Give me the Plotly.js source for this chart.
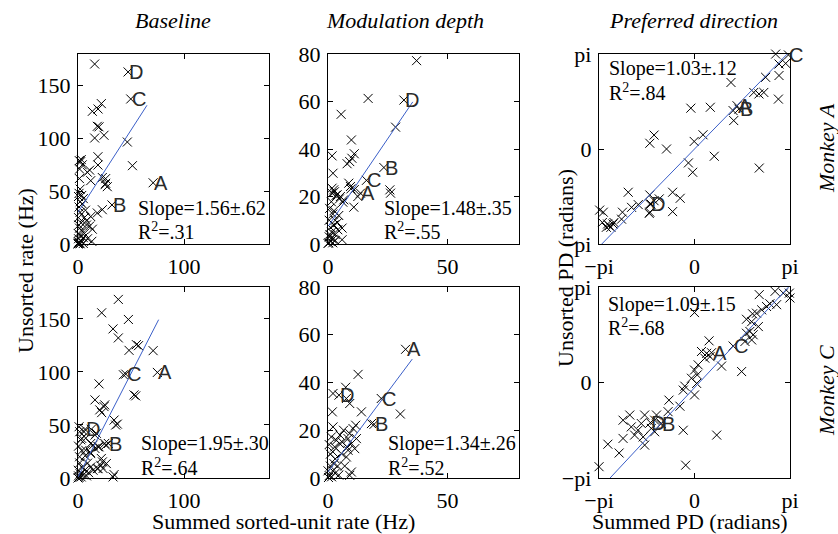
<!DOCTYPE html>
<html>
<head>
<meta charset="utf-8">
<script src="https://cdn.plot.ly/plotly-3.0.1.min.js"></script>
<style>html,body{margin:0;padding:0;background:#fff;}#chart{width:838px;height:534px;}</style>
</head>
<body>
<div id="chart"></div>
<script>
// ---------- DATA ----------
// Monkey A, Baseline (Hz)
var baseA_x = [15.7,13.5,18.9,22,18.2,15.7,24.5,19.8,46.5,51.3,18.8,18.8,2.5,4,8.8,12,22.9,26.1,27.6,1.2,1.5,1.3,2,3.5,5,22.9,18.2,12,11,13.5,8,13,3.1,11,1,2,0.5,3,1.5,4,2,0.5,1,0.3,3,5,6,7,4,0.5,1,2,6,8,9,0.2,0.8,5,2,0,0.5,1.5,26,25.5];
var baseA_y = [170.5,125.7,127.9,133,111.5,100.4,103,111,96.6,74.2,82.7,74.8,78,75,68,60,63,57.5,54.3,79,71,62,52,46,43,32.5,29.4,26,17,14,22,2.5,80,70,35,30,25,20,15,12,8,5,2,0.5,3,6,10,32,38,45,48,40,25,18,5,10,18,0.5,0.2,0,1,0.8,61.9,56.2];
// Monkey A, Modulation depth (Hz)
var mdA_x = [37.1,16.8,5.5,28.3,9.8,11,10,9.1,8,1.7,2.1,8.7,9.4,25.9,26.2,12.5,10.8,1.7,2.4,1.7,3.8,5.2,6.6,5.9,5.9,11,9.6,2.7,3.4,4.8,6.2,1.4,0.7,2,4.1,3,2.5,1.5,0.5,1,0.3,2,3,4,1,0.5,2,3,0.8,1.5,4.5,2.5,0];
var mdA_y = [77.2,61.3,54.6,49.2,43.8,38,36.1,34.7,33.8,37.1,29.8,25.6,24.2,22.8,21.4,20,15.5,23.5,22.8,21.4,20.7,20,18.6,1.8,6.7,22.9,23.2,22,20.5,19,17.6,17.8,15,12.6,6,10,8,5,3,1,0.5,2,4,9,7,10,0.5,1.5,4,2.5,12,14,0.2];
// Monkey A, Preferred direction (radians)
var pdA_x = [2.67,2.78,3.0,2.34,2.78,1.2,1.95,2.12,2.28,2.76,-0.12,0.52,1.27,1.29,-1.33,-1.47,-0.92,-0.01,0.28,0.65,-0.2,-0.06,2.13,-2.18,-1.47,-1.33,-1.16,-1.47,-0.72,-0.47,-0.72,-2.07,-1.85,-2.37,-2.4,-3.12,-3.0,-3.03,-2.81,-2.68,-2.9,-2.86,-2.75,-2.65,-1.49,-1.43];
var pdA_y = [3.14,2.81,2.83,2.37,2.43,2.2,1.87,1.82,1.87,1.65,1.35,1.38,1.27,0.94,0.46,0.19,0,0.25,0.47,-0.24,-0.46,-0.77,-0.63,-1.43,-1.52,-1.71,-1.65,-2.09,-1.43,-1.63,-2.07,-1.93,-1.84,-2.09,-2.32,-2.02,-2.09,-2.43,-2.54,-2.48,-2.59,-2.48,-2.59,-2.43,-2.13,-1.82];
// Monkey C, Baseline (Hz)
var baseC_x = [38,22.3,47.5,33,38,55,48.1,57,70.8,42.8,52.8,54.4,19.8,16,24.5,22.3,34,35.5,37.1,1,5.7,16,3.5,12,16,19.8,26.1,7.2,12,23,21.4,18.2,12,34,20.5,25.2,12.5,1.6,17.3,2.6,7.3,14.2,18.9,25.2,3.6,6.8,11.6,22,26.7,23.6,18.9,14.2,33,1.6,6.3,0.2,0.5,1,2,3,4,0,5,8,9,10,1.5,0.5];
var baseC_y = [168.3,155.7,149.4,140.5,132,125.7,120.3,124.7,120,97.3,78.3,77.4,88.7,73.6,67.3,61.6,54.6,49.9,50.8,48.3,43.6,40.4,37.3,32.5,27.8,29.4,30.9,26.2,23,15.2,12,8.8,10.4,3.2,64.2,68.9,45.9,43.6,42.1,36,37.6,31,29.4,32.6,25.8,21,24.2,18.4,13.6,8.9,8.9,7.3,1,14.2,7.3,7.3,2,0.5,4,1,10,0,3,2,14,5,20,30];
// Monkey C, Modulation depth (Hz)
var mdC_x = [12.6,7.4,2.1,7.7,9.1,1.8,14,30.3,18.2,11.6,10.5,9.1,8.4,11.9,9.8,11.2,8.4,2.1,1.4,3.5,4.9,2.8,5.6,7.7,9.8,9.1,3,1,2,0.5,1.5,0.2,3,4,1,2,5,6,6.5,8,0.5,7,4.5,2.5,0];
var mdC_y = [43.4,38,35.4,33.3,31.2,27.7,27.7,26.8,22.8,22.1,20.7,18.6,16.5,16.5,14.4,12.3,11.6,21.4,17.2,15.8,14.4,13,10.2,8.8,2.5,1.1,8,5,3,1,0.5,0.2,2,5,10,11,18,15,20,13,14,5,1.2,6,3];
// Monkey C, Preferred direction (radians)
var pdC_x = [2.13,2.65,2.92,3.12,3.14,2.48,2.37,2.7,0,2.21,2.04,1.91,1.71,1.88,2.1,1.82,1.93,1.71,1.88,1.66,0.48,0.23,0.4,0.51,0.34,0.89,1.55,0.12,0,0.09,-0.1,0.07,-0.32,-0.37,0,-0.84,-0.48,-0.87,-1.25,-1.31,-1.09,-1.42,-1.31,-0.37,0.73,-1.64,-1.75,-2.13,-2.35,-2.08,-1.86,-1.97,-2.35,-1.69,-1.64,-2.85,-2.48,-3.14,-0.29];
var pdC_y = [2.89,3.0,2.94,2.94,2.78,2.59,2.5,2.56,2.3,2.39,2.28,2.26,2.08,2.0,1.84,1.68,1.57,1.62,1.4,1.35,1.37,1.02,0.96,0.85,0.8,0.54,0.36,0.58,0.41,0.25,0.14,-0.03,-0.12,-0.25,-0.41,-0.58,-0.78,-0.96,-1.07,-1.24,-1.35,-1.51,-1.62,-1.57,-1.73,-1.07,-1.35,-1.07,-1.24,-1.46,-1.57,-1.73,-1.84,-1.79,-2.06,-2.03,-2.32,-2.77,-2.72];

// Labelled example neurons (A-D) per panel
var labelNames = ['A','B','C','D'];
var baseA_lx = [70.8,32,49.7,47.2],  baseA_ly = [58,37,137.4,163];
var mdA_lx   = [13.6,23.4,16.1,31.8], mdA_ly  = [21.4,32.2,26.8,60.6];
var pdA_lx   = [1.4,1.46,3.09,-1.47], pdA_ly  = [1.43,1.32,3.11,-1.82];
var baseC_lx = [74.8,28.6,45,6.6],    baseC_ly = [99.5,32.5,97.9,45.8];
var mdC_lx   = [32.5,19.3,22.3,4.6],  mdC_ly  = [53.9,22.5,33.3,34.7];
var pdC_lx   = [0.56,-1.11,1.27,-1.45], pdC_ly = [0.98,-1.37,1.2,-1.32];

// Regression fits: slope, intercept, x-extent
var fitSlope     = [1.56, 1.48, 1.03, 1.95, 1.34, 1.07];
var fitIntercept = [30, 7.3, 0, 1, 2.5, -0.17];
var fitXStart    = [0, 0.2, -3.1416, 0, 0, -3.1416];
var fitXEnd      = [65, 35.5, 3.1416, 76, 35.3, 3.1416];

// Statistics text
var slopeText = ['Slope=1.56±.62','Slope=1.48±.35','Slope=1.03±.12','Slope=1.95±.30','Slope=1.34±.26','Slope=1.09±.15'];
var r2Text    = ['.31','.55','.84','.64','.52','.68'];

// Tick labels
var rateTicks = [0,50,100,150];
var rateXTicks = [0,100];
var mdTicks = [0,20,40,60,80];
var mdXTicks = [0,50];
var piTicks = [-Math.PI, 0, Math.PI];
var piTickText = ['\u2212pi','0','pi'];

var colTitles = ['Baseline','Modulation depth','Preferred direction'];
var rowTitles = ['Monkey A','Monkey C'];

// ---------- LAYOUT ----------
var W = 838, H = 534;
var colPx = [[78,269],[328,519],[599,790]];
var rowPx = [[54,244],[287,478]];
function px2x(p){return p/W;}
function px2y(p){return 1-p/H;}

var serif = 'Liberation Serif, Times New Roman, serif';
var sans = 'Liberation Sans, Arial, sans-serif';

var panels = [
  {x:baseA_x,y:baseA_y,lx:baseA_lx,ly:baseA_ly,col:0,row:0},
  {x:mdA_x,y:mdA_y,lx:mdA_lx,ly:mdA_ly,col:1,row:0},
  {x:pdA_x,y:pdA_y,lx:pdA_lx,ly:pdA_ly,col:2,row:0},
  {x:baseC_x,y:baseC_y,lx:baseC_lx,ly:baseC_ly,col:0,row:1},
  {x:mdC_x,y:mdC_y,lx:mdC_lx,ly:mdC_ly,col:1,row:1},
  {x:pdC_x,y:pdC_y,lx:pdC_lx,ly:pdC_ly,col:2,row:1}
];

var layout = {
  width: W, height: H,
  margin:{l:0,r:0,t:0,b:0},
  paper_bgcolor:'#fff', plot_bgcolor:'#fff',
  showlegend:false,
  annotations:[]
};

function baseAxis(){
  return {showline:true, linecolor:'#000', linewidth:1.2, mirror:'ticks',
    ticks:'inside', ticklen:5, tickwidth:1, tickcolor:'#000',
    showgrid:false, zeroline:false, fixedrange:true,
    tickfont:{family:serif, size:22, color:'#000'}};
}

var traces = [];
panels.forEach(function(p,i){
  var n = i+1;
  var xa = baseAxis(), ya = baseAxis();
  xa.domain = [px2x(colPx[p.col][0]), px2x(colPx[p.col][1])];
  ya.domain = [px2y(rowPx[p.row][1]), px2y(rowPx[p.row][0])];
  xa.anchor = 'y'+n; ya.anchor = 'x'+n;
  if (p.col===0){ xa.range=[0,180]; ya.range=[0,180]; xa.tickvals=rateXTicks; ya.tickvals=rateTicks; }
  else if (p.col===1){ xa.range=[0,80]; ya.range=[0,80]; xa.tickvals=mdXTicks; ya.tickvals=mdTicks; }
  else { xa.range=[-Math.PI,Math.PI]; ya.range=[-Math.PI,Math.PI];
         xa.tickvals=piTicks; xa.ticktext=piTickText; ya.tickvals=piTicks; ya.ticktext=piTickText; }
  xa.ticklabelstandoff = 2; ya.ticklabelstandoff = 2;
  layout['xaxis'+n] = xa; layout['yaxis'+n] = ya;

  traces.push({type:'scatter', mode:'markers', x:p.x.concat(p.lx), y:p.y.concat(p.ly),
    xaxis:'x'+n, yaxis:'y'+n, cliponaxis:false, hoverinfo:'skip',
    marker:{symbol:'x-thin', size:9, color:'#000', line:{width:1, color:'#000'}}});
  var fx = [fitXStart[i], fitXEnd[i]];
  var fy = fx.map(function(v){return fitIntercept[i] + fitSlope[i]*v;});
  traces.push({type:'scatter', mode:'lines', x:fx, y:fy, xaxis:'x'+n, yaxis:'y'+n,
    hoverinfo:'skip', line:{color:'#3b5fc8', width:1}});

  labelNames.forEach(function(L,k){
    layout.annotations.push({text:L, x:p.lx[k], y:p.ly[k], xref:'x'+n, yref:'y'+n,
      xanchor:'left', yanchor:'middle', showarrow:false, xshift:-1,
      font:{family:sans, size:20, color:'#2a2a2a'}});
  });
});

// Statistics annotations (pixel positions of text)
var statPos = [[136,209,231],[382,209,231],[607,69,92],[139,443,467],[386,443,467],[606,304,327]];
statPos.forEach(function(s,i){
  layout.annotations.push({text:slopeText[i], x:px2x(s[0]), y:px2y(s[1]), xref:'paper', yref:'paper',
    xanchor:'left', yanchor:'middle', showarrow:false, font:{family:serif, size:20, color:'#000'}});
  layout.annotations.push({text:'R<sup>2</sup>=' + r2Text[i], x:px2x(s[0]), y:px2y(s[2]), xref:'paper', yref:'paper',
    xanchor:'left', yanchor:'middle', showarrow:false, font:{family:serif, size:20, color:'#000'}});
});

// Column titles
var colCenters = [173, 405, 693];
colTitles.forEach(function(t,i){
  layout.annotations.push({text:'<i>'+t+'</i>', x:px2x(colCenters[i]), y:px2y(21), xref:'paper', yref:'paper',
    xanchor:'center', yanchor:'middle', showarrow:false, font:{family:serif, size:22, color:'#000'}});
});
// Row titles
var rowCenters = [148, 391];
rowTitles.forEach(function(t,i){
  layout.annotations.push({text:'<i>'+t+'</i>', x:px2x(826), y:px2y(rowCenters[i]), xref:'paper', yref:'paper',
    xanchor:'center', yanchor:'middle', textangle:-90, showarrow:false, font:{family:serif, size:22, color:'#000'}});
});
// Axis titles
var axisTitles = [
  {t:'Unsorted rate (Hz)', x:25, y:271, a:-90},
  {t:'Unsorted PD (radians)', x:565, y:268, a:-90},
  {t:'Summed sorted-unit rate (Hz)', x:283, y:521, a:0},
  {t:'Summed PD (radians)', x:690, y:521, a:0}
];
axisTitles.forEach(function(o){
  layout.annotations.push({text:o.t, x:px2x(o.x), y:px2y(o.y), xref:'paper', yref:'paper',
    xanchor:'center', yanchor:'middle', textangle:o.a, showarrow:false, font:{family:serif, size:22, color:'#000'}});
});

Plotly.newPlot('chart', traces, layout, {staticPlot:true, displayModeBar:false});
</script>
</body>
</html>
